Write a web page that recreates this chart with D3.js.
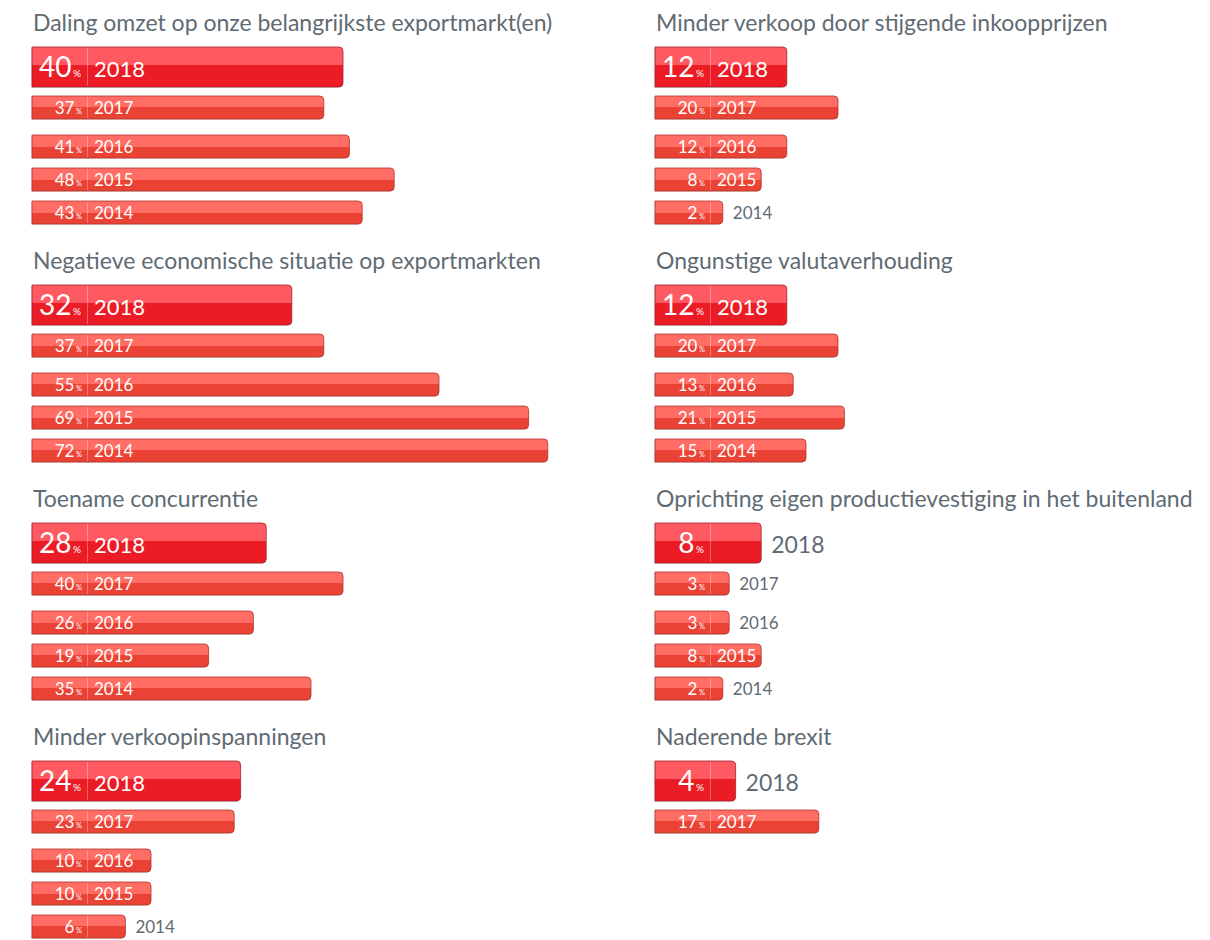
<!DOCTYPE html>
<html><head><meta charset="utf-8">
<script src="https://cdn.jsdelivr.net/npm/d3@7"></script>
<style>
html,body{margin:0;padding:0;background:#fff;}
svg{display:block;}
text{font-family:Lato, "Open Sans", sans-serif;}
</style></head>
<body><svg id="chart" width="1210" height="940"></svg>
<script>
// ---- data ----
const titles = [
  "Daling omzet op onze belangrijkste exportmarkt(en)",
  "Negatieve economische situatie op exportmarkten",
  "Toename concurrentie",
  "Minder verkoopinspanningen",
  "Minder verkoop door stijgende inkoopprijzen",
  "Ongunstige valutaverhouding",
  "Oprichting eigen productievestiging in het buitenland",
  "Naderende brexit"
];
const years = ["2018","2017","2016","2015","2014"];
const values = [
  [40,37,41,48,43],
  [32,37,55,69,72],
  [28,40,26,19,35],
  [24,23,10,10,6],
  [12,20,12,8,2],
  [12,20,13,21,15],
  [8,3,3,8,2],
  [4,17]
];

// ---- layout ----
const svg = d3.select("#chart");
const defs = svg.append("defs");
function grad(id, top, bot, split){
  const g = defs.append("linearGradient").attr("id",id).attr("x1",0).attr("y1",0).attr("x2",0).attr("y2",1);
  g.append("stop").attr("offset",0).attr("stop-color",top);
  g.append("stop").attr("offset",split).attr("stop-color",top);
  g.append("stop").attr("offset",split).attr("stop-color",bot);
  g.append("stop").attr("offset",1).attr("stop-color",bot);
}
grad("gBig","#ff5962","#eb1c26",0.44);
grad("gSmall","#ff6d65","#ea4234",0.5);

const x = d3.scaleLinear().domain([0,100]).range([0,640]);
const LABEL_W = 55;
const colX = d3.scaleOrdinal().domain([0,1]).range([32,655]);
const panelY = d3.scaleLinear().domain([0,1]).range([31,269]);
const rowY = d3.scaleOrdinal().domain(years).range([16,65,104,137,170]);
const rowH = d3.scaleOrdinal().domain(years).range([40,23,23,23,23]);

function barPath(w,h){
  const r = 4;
  return `M0,0 H${w-r} Q${w},0 ${w},${r} V${h-r} Q${w},${h} ${w-r},${h} H0 Z`;
}

titles.forEach((t,i)=>{
  const col = i<4?0:1, row = i%4;
  const gx = colX(col), gy = panelY(row);
  const g = svg.append("g").attr("transform",`translate(${gx},${gy})`);
  g.append("text").attr("x",1).attr("y",0).attr("fill","#5f6b73")
    .attr("font-size",23).text(t);
  values[i].forEach((v,j)=>{
    const yr = years[j];
    const big = j===0;
    const h = rowH(yr);
    const w = LABEL_W + x(v);
    const b = g.append("g").attr("transform",`translate(0,${rowY(yr)})`);
    // shadow
    b.append("path").attr("d",barPath(w,h)).attr("transform","translate(-1,1)")
      .attr("fill","#000").attr("opacity",0.12);
    b.append("path").attr("d",barPath(w,h))
      .attr("fill",big?"url(#gBig)":"url(#gSmall)")
      .attr("stroke",big?"#a3202a":"#b0332c").attr("stroke-width",1).attr("stroke-opacity",0.8);
    b.append("line").attr("x1",LABEL_W+0.5).attr("x2",LABEL_W+0.5).attr("y1",1).attr("y2",h-1)
      .attr("stroke","#fff").attr("stroke-opacity",0.3);
    const fsNum = big?28:17, fsPct = big?10:7.5, fsYr = big?22:17;
    const base = big? h*0.76 : h*0.8;
    const vt = b.append("text").attr("x",big?49:50).attr("y",base).attr("text-anchor","end").attr("fill","#fff");
    vt.append("tspan").attr("font-size",fsNum).text(v);
    vt.append("tspan").attr("font-size",fsPct).attr("dx",big?1.5:1.5).text("%");
    const yt = b.append("text").attr("y",base).attr("font-size",fsYr).text(yr);
    const tw = yt.node().getComputedTextLength();
    if (w - (LABEL_W+7) >= tw + 3) {
      yt.attr("x",LABEL_W+7).attr("fill","#fff");
    } else {
      yt.attr("x",w+10).attr("fill","#5f6b73").attr("font-size",big?23:17);
    }
  });
});
</script></body></html>
